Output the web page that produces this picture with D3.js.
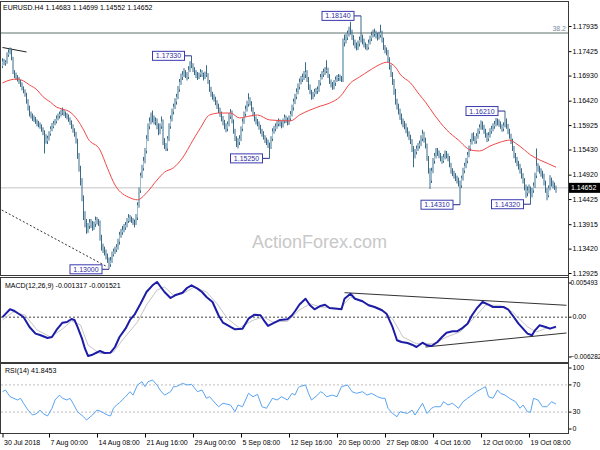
<!DOCTYPE html>
<html>
<head>
<meta charset="utf-8">
<script src="https://cdn.jsdelivr.net/npm/d3@7"></script>
<style>
body { margin: 0; background: #fff; }
svg text { font-family: "Liberation Sans", Arial, sans-serif; }
svg text.narrow { font-family: "Liberation Sans Narrow", "Liberation Sans", Arial, sans-serif; }
</style>
</head>
<body>
<svg id="chart" width="600" height="450"></svg>
<script>
// EURUSD H4 bars, prices in pips above 1.1000 (open of each bar = previous close)
const open0 = 712;
const closes = [
  722,718,720,735,740,745,728,700,695,690, 686,680,675,668,662,655,640,628,615,612,
  606,604,600,596,593,590,584,578,570,560, 566,575,585,590,596,600,606,611,615,618,
  620,616,612,610,604,598,590,582,575,560, 530,505,480,445,410,395,380,388,395,392,
  385,392,400,398,395,365,345,340,335,328, 320,310,318,330,336,340,345,356,370,375,
  380,385,390,398,405,402,400,396,395,405, 430,460,490,505,520,540,565,590,600,610,
  605,600,600,590,580,590,600,560,550,545, 565,590,605,620,630,640,650,665,680,690,
  695,700,695,690,705,715,715,705,700,695, 690,695,700,695,690,695,695,680,665,655,
  650,645,638,630,622,615,606,598,590,585, 595,610,618,600,580,565,560,558,565,585,
  600,615,625,635,645,638,625,615,605,600, 595,588,580,575,568,562,558,552,548,565,
  580,585,590,595,600,596,592,600,608,602, 598,606,615,628,640,650,660,670,680,685,
  690,695,700,685,670,660,650,655,660,662, 665,678,690,695,700,702,705,692,680,675,
  670,678,685,688,690,688,685,760,765,770, 778,785,780,770,760,755,750,758,765,770,
  762,755,752,750,760,768,775,778,780,775, 770,775,780,765,750,745,740,725,710,695,
  680,660,640,630,620,610,600,595,590,582, 575,568,560,545,530,538,545,550,555,565,
  575,562,550,525,500,480,500,520,530,540, 535,530,525,520,528,535,530,525,512,500,
  495,490,485,480,475,470,485,500,510,520, 532,545,558,570,565,560,570,580,588,595,
  588,580,572,565,572,580,585,590,595,600, 598,595,590,585,592,600,590,580,570,560,
  545,530,522,515,508,500,490,480,468,455, 460,465,450,460,470,490,510,505,500,495,
  490,475,460,450,465,480,475,470,468.3,465.2
];
const highs = [
  728,727,724,740,746,750,748,731,704,699, 694,690,684,679,671,665,658,645,632,620,
  616,612,609,604,601,598,594,588,582,574, 571,580,590,597,601,605,612,616,620,624,
  628,624,620,617,614,608,602,594,586,579, 565,536,510,485,450,418,402,394,402,402,
  398,397,407,406,402,399,370,352,346,340, 332,324,325,336,342,346,351,362,376,382,
  388,392,396,404,412,410,407,404,401,412, 436,466,496,512,528,546,572,596,608,618,
  622,612,608,606,596,596,610,604,566,556, 570,596,612,626,636,647,656,672,686,697,
  702,708,704,700,712,722,733,718,710,704, 700,699,706,704,699,701,714,698,684,670,
  660,655,650,643,636,628,620,611,603,596, 600,617,625,622,604,585,570,566,572,590,
  606,620,632,642,657,649,641,629,619,610, 605,600,593,585,580,572,567,563,557,570,
  586,591,596,601,606,604,600,606,614,612, 608,612,621,634,646,656,667,677,687,692,
  697,702,720,704,690,675,664,660,666,668, 671,684,696,702,707,710,724,709,696,685,
  680,684,691,694,696,695,692,768,776,778, 784,792,802,786,775,766,760,764,772,814,
  776,768,760,757,766,774,782,786,788,784, 780,782,796,784,770,755,750,745,730,715,
  700,686,666,646,636,626,616,606,601,596, 588,580,573,564,550,544,551,556,561,572,
  583,579,567,555,530,505,506,526,536,546, 546,541,536,530,534,541,540,535,530,516,
  505,500,495,490,486,480,490,506,516,526, 538,551,564,576,578,570,576,586,594,602,
  600,593,585,577,578,586,591,596,601,607, 606,604,600,594,598,621,606,595,585,575,
  565,550,536,528,520,514,505,495,485,472, 468,472,468,465,476,496,545,515,510,505,
  500,494,480,465,470,491,486,480,476,469.9
];
const lows = [
  708,714,713,717,731,736,724,696,688,684, 681,676,670,663,657,650,636,622,610,606,
  601,599,595,590,588,585,579,572,535,555, 554,561,571,580,586,592,596,602,606,610,
  613,611,607,604,599,593,585,577,569,555, 524,498,470,438,400,385,372,374,382,384,
  378,380,386,391,388,358,338,333,328,320, 313,300,305,313,326,331,335,340,350,364,
  370,375,380,385,394,396,394,390,385,390, 400,425,455,485,500,515,535,560,584,594,
  598,594,592,584,572,574,585,552,544,540, 540,560,585,600,614,625,634,645,660,674,
  684,690,688,683,686,700,708,700,694,688, 684,686,690,690,683,686,690,676,660,650,
  644,640,633,625,617,609,600,592,584,578, 580,590,605,596,575,560,548,545,552,560,
  580,595,610,620,630,632,620,610,600,594, 590,583,575,569,563,556,552,546,525,544,
  560,575,580,585,590,590,586,588,596,597, 592,593,601,610,622,635,645,655,665,675,
  680,684,688,680,664,655,644,645,650,655, 656,660,673,685,690,694,698,688,676,669,
  664,665,672,680,682,682,680,680,752,758, 765,772,776,765,754,748,744,745,752,760,
  756,750,746,744,746,756,763,770,772,768, 764,766,770,760,745,738,734,720,705,690,
  674,654,634,624,614,603,594,588,584,576, 569,562,554,538,507,525,533,540,545,550,
  560,557,545,520,494,463,475,495,514,525, 530,525,519,514,516,523,525,519,507,494,
  489,484,479,474,468,431,465,480,495,505, 515,527,540,553,560,554,555,565,575,583,
  583,575,567,558,560,567,575,580,585,590, 592,589,585,579,580,588,585,574,565,554,
  540,525,516,509,502,494,484,474,460,445, 448,454,432,446,455,465,485,498,494,488,
  484,470,455,440,446,460,468,464,461,455.2
];

// moving average (red): [bar, pips]
const maPoints = [
  [0,678],[5,684],[10,686],[14,682],[18,674],[23,664],[27,650],[32,639],[36,629],[40,625],
  [45,619],[50,603],[54,583],[57,565],[65,542],[70,505],[75,471],[85,445],[90,441],[96,455],
  [103,481],[108,497],[114,506],[120,526],[127,562],[132,587],[138,613],[145,617],[152,617],
  [158,607],[165,611],[170,613],[178,603],[192,601],[198,613],[205,623],[212,631],[218,637],
  [225,650],[232,678],[238,690],[245,704],[252,716],[256,720],[262,710],[265,696],[272,678],
  [278,654],[282,639],[288,613],[296,583],[304,562],[312,542],[318,540],[325,550],[332,558],
  [338,562],[342,556],[348,542],[352,532],[358,522],[364,514],[369,507]
];

// MACD(12,26,9) main and signal: [bar, value]
const macdPoints = [
  [0,0.00000],[5,0.00111],[8,0.00087],[14,0.00003],[18,-0.00137],[22,-0.00231],[25,-0.00250],
  [30,-0.00292],[33,-0.00278],[36,-0.00179],[40,-0.00077],[43,-0.00067],[46,-0.00025],[48,-0.00039],
  [50,-0.00137],[53,-0.00301],[55,-0.00442],[57,-0.00544],[60,-0.00526],[65,-0.00474],[68,-0.00502],
  [72,-0.00498],[75,-0.00418],[78,-0.00278],[82,-0.00161],[85,-0.00039],[88,0.00035],[92,0.00189],
  [96,0.00353],[100,0.00447],[103,0.00494],[105,0.00437],[108,0.00353],[112,0.00269],[115,0.00307],
  [120,0.00343],[123,0.00409],[126,0.00447],[130,0.00400],[133,0.00353],[136,0.00283],[140,0.00213],
  [144,0.00027],[147,-0.00077],[152,-0.00137],[155,-0.00170],[160,-0.00161],[164,-0.00021],
  [168,0.00035],[172,0.00027],[175,-0.00067],[177,-0.00123],[180,-0.00091],[185,-0.00039],
  [190,-0.00029],[193,0.00027],[195,0.00083],[198,0.00178],[202,0.00259],[205,0.00167],[208,0.00111],
  [212,0.00157],[215,0.00175],[218,0.00129],[223,0.00119],[226,0.00111],[228,0.00259],[232,0.00329],
  [235,0.00259],[240,0.00223],[244,0.00167],[248,0.00143],[253,0.00097],[256,0.00049],[260,-0.00137],
  [263,-0.00324],[266,-0.00348],[270,-0.00362],[273,-0.00386],[276,-0.00418],[280,-0.00358],
  [283,-0.00394],[286,-0.00404],[290,-0.00348],[293,-0.00278],[296,-0.00217],[300,-0.00198],
  [303,-0.00198],[306,-0.00161],[310,-0.00091],[313,0.00027],[316,0.00119],[320,0.00213],
  [324,0.00175],[327,0.00143],[330,0.00143],[334,0.00143],[337,0.00111],[340,0.00027],[344,-0.00091],
  [347,-0.00161],[350,-0.00231],[353,-0.00254],[355,-0.00184],[358,-0.00114],[362,-0.00137],
  [365,-0.00161],[369,-0.00132]
];
const signalPoints = [
  [0,-0.00039],[7,0.00073],[15,0.00031],[23,-0.00179],[32,-0.00278],[40,-0.00165],[46,-0.00053],
  [52,-0.00109],[57,-0.00390],[65,-0.00512],[74,-0.00488],[80,-0.00320],[90,-0.00067],[96,0.00171],
  [103,0.00381],[108,0.00423],[114,0.00307],[120,0.00329],[128,0.00423],[136,0.00353],[143,0.00189],
  [150,-0.00021],[158,-0.00151],[167,-0.00043],[174,0.00003],[180,-0.00067],[190,-0.00057],
  [198,0.00101],[205,0.00189],[212,0.00143],[225,0.00119],[232,0.00283],[240,0.00213],[252,0.00119],
  [260,-0.00021],[267,-0.00278],[276,-0.00372],[287,-0.00372],[296,-0.00278],[305,-0.00207],
  [314,-0.00021],[322,0.00167],[332,0.00167],[340,0.00073],[350,-0.00137],[356,-0.00207],
  [363,-0.00151],[369,-0.00152]
];

// RSI(14): [bar, value]
const rsiPoints = [
  [0,60],[2,62.5],[5,52.6],[10,47.8],[12,50.3],[14,43],[17,33],[20,25.7],[23,28],[25,33],[27,28],
  [30,24.3],[33,35.6],[35,47.8],[38,55],[40,50.3],[43,47.8],[45,50.3],[47,43],[50,30.6],[54,23.2],
  [56,18.4],[60,25.7],[63,33],[66,30.6],[70,25.7],[72,24.3],[74,35.6],[76,40.4],[78,43.8],[82,52.6],
  [85,60],[87,55],[90,69.9],[93,74.7],[95,67.4],[97,74.7],[100,77.2],[103,69.9],[105,62.5],[108,55],
  [112,60],[114,67.4],[116,67.4],[120,72.4],[123,69.9],[126,70.9],[130,60],[133,62.5],[136,50.3],
  [138,52.6],[144,37.9],[147,43],[152,40.4],[155,30.6],[157,40.4],[160,37.9],[164,57.6],[167,52.6],
  [170,56.2],[173,37.9],[176,35.6],[180,50.3],[183,47.8],[186,52.6],[190,47.8],[193,57.6],[195,55],
  [197,65],[198,67.4],[202,69.9],[204,57.6],[206,47.8],[210,55],[212,60],[214,57.6],[216,52.6],
  [220,55],[223,52.6],[226,67.4],[230,69.9],[233,60],[236,57.6],[240,60],[243,55],[246,57.6],
  [250,52.6],[253,50.3],[255,50.3],[257,35.6],[260,28],[263,23.2],[265,30.6],[270,28],[273,33],
  [275,25.7],[280,43],[283,28],[286,35.6],[288,37.9],[292,37.9],[294,45.3],[297,40.4],[300,43],
  [304,35.6],[307,45.3],[310,50.3],[313,55],[316,60],[320,65],[322,67.4],[324,52.6],[327,50.3],
  [330,62.5],[332,57.6],[335,55],[338,50.3],[342,45.3],[345,35.6],[347,40.4],[350,30.6],[352,29.7],
  [354,50.3],[357,47.8],[360,37.9],[363,37.9],[366,45.3],[369,41.8]
];

// swing high / low labels
const swingLabels = [
  { bar: 239, price: 1.1814, text: "1.18140" },
  { bar: 126, price: 1.1733, text: "1.17330" },
  { bar: 71,  price: 1.1300, text: "1.13000" },
  { bar: 178, price: 1.1525, text: "1.15250" },
  { bar: 335, price: 1.1621, text: "1.16210" },
  { bar: 305, price: 1.1431, text: "1.14310" },
  { bar: 352, price: 1.1432, text: "1.14320" }
];

const priceTicks = [1.17935, 1.17425, 1.16930, 1.16420, 1.15925, 1.15430, 1.14920, 1.14425, 1.13915, 1.13420, 1.12925];
const lastPrice = 1.14652;
const fibLevel = 1.17793;
const topTrend = [[0, 1.17499], [16, 1.17408]];
const dashTrend = [[-0.5, 1.14203], [70, 1.13047]];
const macdUpper = [[228, 0.003435], [376, 0.001668]];
const macdLower = [[282, -0.004178], [376, -0.002215]];
const xTickBars = [0, 31, 63, 95, 127, 159, 191, 223, 255, 287, 319, 351];
const xTickLabels = ["30 Jul 2018", "7 Aug 00:00", "14 Aug 08:00", "21 Aug 16:00", "29 Aug 00:00", "5 Sep 08:00",
                     "12 Sep 16:00", "20 Sep 00:00", "27 Sep 08:00", "4 Oct 16:00", "12 Oct 00:00", "19 Oct 08:00"];

const P = v => 1.1 + v / 10000;
const svg = d3.select("#chart");
const R = 568; // right edge of the plot panels

const x = d3.scaleLinear().domain([0, 369]).range([2.5, 556]);
const yMain = d3.scaleLinear().domain([1.12925, 1.17935]).range([273, 26]);
const yMacd = d3.scaleLinear().domain([-0.006282, 0.005493]).range([362, 278]);
const yRsi = d3.scaleLinear().domain([0, 100]).range([432.5, 364.5]);

// watermark
svg.append("text").attr("x", 252).attr("y", 248)
  .style("font-size", "18px").attr("fill", "#c8c8c8").text("ActionForex.com");

// panel frames
const panels = [[1.5, 275.5], [277.5, 362.5], [363.5, 433.5]];
panels.forEach(([t, b]) => {
  svg.append("rect").attr("x", 0.5).attr("y", t).attr("width", R).attr("height", b - t)
    .attr("fill", "none").attr("stroke", "#3a3a3a");
});

// clip for the main panel
svg.append("clipPath").attr("id", "mainClip").append("rect")
  .attr("x", 1).attr("y", 2).attr("width", R - 1).attr("height", 273);
const gMain = svg.append("g").attr("clip-path", "url(#mainClip)");

// horizontal levels
gMain.append("line").attr("x1", 0).attr("x2", R).attr("y1", yMain(lastPrice)).attr("y2", yMain(lastPrice))
  .attr("stroke", "#c4c4c4");
gMain.append("line").attr("x1", 0).attr("x2", R).attr("y1", yMain(fibLevel)).attr("y2", yMain(fibLevel))
  .attr("stroke", "#5e6e6e");
gMain.append("text").attr("x", R - 2).attr("y", yMain(fibLevel) - 2).attr("text-anchor", "end")
  .style("font-size", "7px").attr("fill", "#7a8a9c").text("38.2");

// trend lines in price panel
const tl = d3.line().x(d => x(d[0])).y(d => yMain(d[1]));
gMain.append("path").attr("d", tl(topTrend)).attr("stroke", "#222").attr("fill", "none");
gMain.append("path").attr("d", tl(dashTrend)).attr("stroke", "#333").attr("fill", "none")
  .attr("stroke-dasharray", "2,2");

// candles
const bars = closes.map((c, i) => ({ i, o: i ? closes[i - 1] : open0, c, h: highs[i], l: lows[i] }));
gMain.selectAll("line.wick").data(bars).join("line").attr("class", "wick")
  .attr("x1", d => x(d.i)).attr("x2", d => x(d.i))
  .attr("y1", d => yMain(P(Math.max(d.h, d.o, d.c)))).attr("y2", d => yMain(P(Math.min(d.l, d.o, d.c))))
  .attr("stroke", "#3a6b88").attr("stroke-width", 1);
gMain.selectAll("rect.body").data(bars.filter(d => d.c >= d.o)).join("rect").attr("class", "body")
  .attr("x", d => x(d.i) - 0.5).attr("width", 1)
  .attr("y", d => yMain(P(d.c))).attr("height", d => Math.max(0.5, yMain(P(d.o)) - yMain(P(d.c))))
  .attr("fill", "#9bbdd0");

// moving average
gMain.append("path").datum(maPoints)
  .attr("d", d3.line().x(d => x(d[0])).y(d => yMain(P(d[1]))).curve(d3.curveMonotoneX))
  .attr("fill", "none").attr("stroke", "#f04848").attr("stroke-width", 1);

// swing labels
swingLabels.forEach(s => {
  const bx = x(s.bar), by = yMain(s.price);
  gMain.append("line").attr("x1", bx - 7).attr("x2", bx).attr("y1", by).attr("y2", by).attr("stroke", "#2a2a8a");
  gMain.append("rect").attr("x", bx - 39).attr("y", by - 4.5).attr("width", 32).attr("height", 9)
    .attr("fill", "#fff").attr("stroke", "#3a3ab0");
  gMain.append("text").attr("x", bx - 23).attr("y", by + 2.5).attr("text-anchor", "middle")
    .style("font-size", "7px").attr("fill", "#2e2ea0").text(s.text);
});

// title
svg.append("text").attr("x", 3).attr("y", 10).style("font-size", "7px").attr("fill", "#000")
  .text("EURUSD.H4  1.14683 1.14699 1.14552 1.14652");

// price axis
const axMain = svg.append("g").attr("transform", `translate(${R + 0.5},0)`)
  .call(d3.axisRight(yMain).tickValues(priceTicks).tickFormat(d3.format(".5f")).tickSize(3).tickPadding(1));
axMain.select(".domain").remove();
axMain.selectAll("text").style("font-size", "7px").attr("fill", "#000");
axMain.selectAll("line").attr("stroke", "#000");
svg.append("rect").attr("x", R + 1).attr("y", yMain(lastPrice) - 5).attr("width", 31).attr("height", 10).attr("fill", "#000");
svg.append("text").attr("x", R + 3).attr("y", yMain(lastPrice) + 2.5).style("font-size", "7px")
  .attr("fill", "#fff").text("1.14652");

// MACD panel
svg.append("line").attr("x1", 1).attr("x2", R).attr("y1", yMacd(0)).attr("y2", yMacd(0))
  .attr("stroke", "#444").attr("stroke-dasharray", "2,2");
const ml = d3.line().x(d => x(d[0])).y(d => yMacd(d[1]));
svg.append("path").attr("d", ml(macdUpper)).attr("stroke", "#333").attr("fill", "none");
svg.append("path").attr("d", ml(macdLower)).attr("stroke", "#333").attr("fill", "none");
svg.append("path").attr("d", ml(signalPoints)).attr("stroke", "#c6c6c6").attr("fill", "none");
svg.append("path").attr("d", ml(macdPoints)).attr("stroke", "#1c1ca6").attr("stroke-width", 2)
  .attr("fill", "none").attr("stroke-linejoin", "round");
svg.append("text").attr("x", 5).attr("y", 288).style("font-size", "7px").attr("fill", "#000")
  .text("MACD(12,26,9) -0.001317 -0.001521");
const macdTicks = [0.005493, 0, -0.006282];
const axMacd = svg.append("g").attr("transform", `translate(${R + 0.5},0)`)
  .call(d3.axisRight(yMacd).tickValues(macdTicks).tickFormat(d => d === 0 ? "0.00" : d3.format(".6f")(d))
    .tickSize(3).tickPadding(1));
axMacd.select(".domain").remove();
axMacd.selectAll(".tick").attr("transform", d => `translate(0,${yMacd(d) + (d > 0 ? 5 : d < 0 ? -5 : 0)})`);
axMacd.selectAll("text").style("font-size", "7px").attr("fill", "#000");
// the long edge labels use a narrow face so they stay inside the picture
axMacd.selectAll("text").filter(d => d !== 0).attr("class", "narrow")
  .style("font-size", "6.5px").attr("x", 2);

// RSI panel
[70, 30].forEach(v => {
  svg.append("line").attr("x1", 1).attr("x2", R).attr("y1", yRsi(v)).attr("y2", yRsi(v))
    .attr("stroke", "#bdbdbd").attr("stroke-dasharray", "2,2");
});
svg.append("path").attr("d", d3.line().x(d => x(d[0])).y(d => yRsi(d[1]))(rsiPoints))
  .attr("stroke", "#5aa4f2").attr("fill", "none").attr("stroke-width", 1);
svg.append("text").attr("x", 5).attr("y", 373).style("font-size", "7px").attr("fill", "#000")
  .text("RSI(14) 41.8453");
const axRsi = svg.append("g").attr("transform", `translate(${R + 0.5},0)`)
  .call(d3.axisRight(yRsi).tickValues([100, 70, 30, 0]).tickSize(3).tickPadding(1));
axRsi.select(".domain").remove();
axRsi.selectAll(".tick").attr("transform", d => `translate(0,${yRsi(d) + (d === 100 ? 3.5 : d === 0 ? -3.5 : 0)})`);
axRsi.selectAll("text").style("font-size", "7px").attr("fill", "#000");

// right border line across all panels
svg.append("line").attr("x1", R + 0.5).attr("x2", R + 0.5).attr("y1", 1.5).attr("y2", 433.5).attr("stroke", "#3a3a3a");

// time axis
const axX = svg.append("g").attr("transform", "translate(0,433.5)")
  .call(d3.axisBottom(x).tickValues(xTickBars).tickFormat((d, k) => xTickLabels[k]).tickSize(4).tickPadding(3));
axX.select(".domain").remove();
axX.selectAll("text").attr("text-anchor", "start").attr("dx", 1).style("font-size", "7px").attr("fill", "#000");
</script>
</body>
</html>
